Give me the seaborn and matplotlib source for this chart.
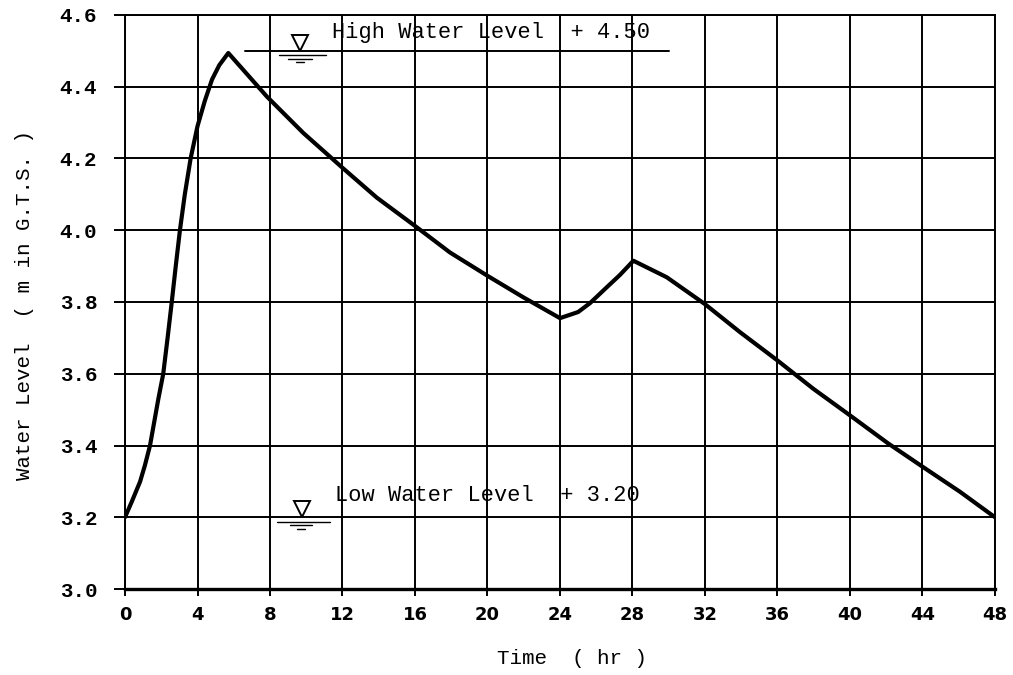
import matplotlib
matplotlib.use("Agg")
import matplotlib.pyplot as plt
import seaborn as sns
import pandas as pd

# Data
time_hr = [0, 0.37, 0.83, 1.1, 1.38, 1.84, 2.11, 2.35, 2.58, 2.8, 3.03, 3.3, 3.62, 4.0, 4.4, 4.8, 5.2, 5.7,
           7.82, 9.84, 12, 13.89, 16, 17.93, 20, 21.98, 24,
           25, 25.66, 26.58, 27.3, 28.05,
           29.89, 32, 33.93, 36, 37.98, 40, 42.1, 44, 46.07, 48]
water_level = [3.20, 3.243, 3.299, 3.345, 3.40, 3.53, 3.60, 3.70, 3.80, 3.90, 4.00, 4.10, 4.20, 4.29, 4.36, 4.42, 4.46, 4.494,
               4.373, 4.271, 4.174, 4.091, 4.012, 3.938, 3.873, 3.813, 3.755,
               3.772, 3.797, 3.841, 3.875, 3.915,
               3.869, 3.794, 3.716, 3.637, 3.558, 3.484, 3.406, 3.341, 3.271, 3.20]
x_ticks = [0, 4, 8, 12, 16, 20, 24, 28, 32, 36, 40, 44, 48]
y_ticks = [3.0, 3.2, 3.4, 3.6, 3.8, 4.0, 4.2, 4.4, 4.6]
high_level = 4.50
low_level = 3.20
high_label = "High Water Level  + 4.50"
low_label = "Low Water Level  + 3.20"

df = pd.DataFrame({"Time": time_hr, "Level": water_level})

sns.set_theme(style="ticks")
plt.rcParams["font.family"] = ["Liberation Mono", "DejaVu Sans Mono"]

fig = plt.figure(figsize=(10.13, 6.75), dpi=100)
ax = fig.add_axes([0.1234, 0.1274, 0.8588, 0.8504])

sns.lineplot(data=df, x="Time", y="Level", ax=ax, color="black", lw=3.0, sort=False)
ax.lines[-1].set_solid_joinstyle("round")

ax.set_xlim(0, 48)
ax.set_ylim(3.0, 4.6)
ax.set_xticks(x_ticks)
ax.set_yticks(y_ticks)
ax.set_xticklabels([str(t) for t in x_ticks], family=["DejaVu Sans"], fontweight="bold", fontsize=13)
ax.set_yticklabels([f"{v:.1f}" for v in y_ticks], fontweight="bold", fontsize=15)
ax.grid(True, color="black", lw=1.4)
ax.set_axisbelow(True)
for s in ax.spines.values():
    s.set_color("black")
    s.set_linewidth(1.4)
ax.spines["bottom"].set_linewidth(2.4)
ax.tick_params(axis="y", length=8, width=1.4, pad=12, colors="black")
ax.tick_params(axis="x", length=5, width=1.4, pad=7, colors="black")

ax.set_xlabel("Time  ( hr )", fontsize=15, color="black")
ax.xaxis.set_label_coords(0.514, -0.104)
ax.set_ylabel("Water Level  ( m in G.T.S. )", fontsize=15, color="black")
ax.yaxis.set_label_coords(-0.105, 0.495)

# High water level annotation
ax.plot([6.6, 30.0], [high_level, high_level], color="black", lw=1.4)
ax.plot([9.65], [4.522], marker="v", ms=12, mfc="none", mec="black", mew=1.4)
ax.plot([8.5, 11.1], [4.488, 4.488], color="black", lw=1.0)
ax.plot([9.0, 10.3], [4.478, 4.478], color="black", lw=1.0)
ax.plot([9.45, 9.85], [4.468, 4.468], color="black", lw=1.0)
ax.text(11.4, 4.55, high_label, fontsize=15.8, va="center", ha="left", color="black")

# Low water level annotation
ax.plot([9.77], [3.222], marker="v", ms=12, mfc="none", mec="black", mew=1.4)
ax.plot([8.4, 11.3], [3.188, 3.188], color="black", lw=1.0)
ax.plot([9.1, 10.3], [3.178, 3.178], color="black", lw=1.0)
ax.plot([9.5, 9.95], [3.166, 3.166], color="black", lw=1.0)
ax.text(11.6, 3.261, low_label, fontsize=15.8, va="center", ha="left", color="black")

fig.savefig("out.png", dpi=100)
